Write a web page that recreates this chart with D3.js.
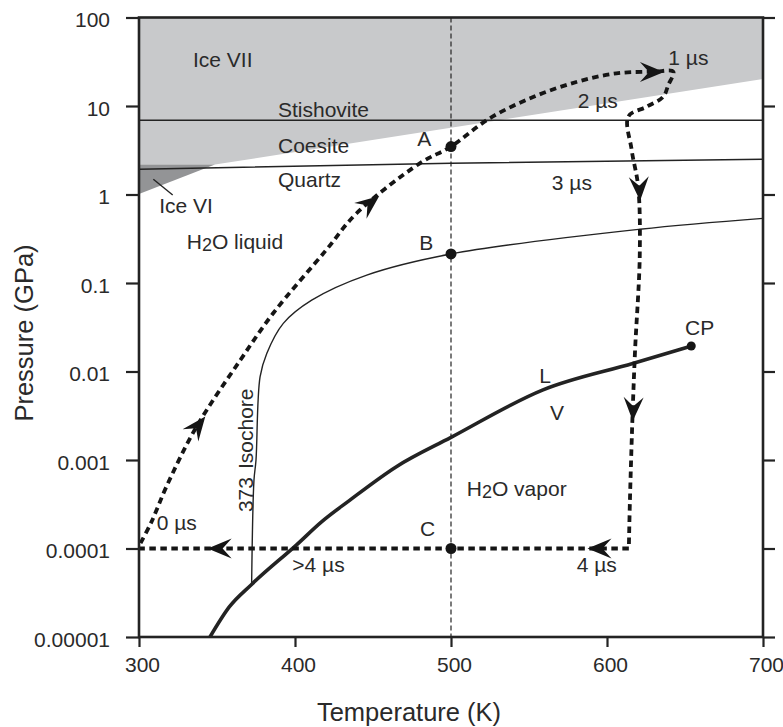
<!DOCTYPE html>
<html>
<head>
<meta charset="utf-8">
<script src="https://cdn.jsdelivr.net/npm/d3@7"></script>
<style>
  html, body { margin: 0; padding: 0; background: #fff; }
  svg { display: block; font-family: "Liberation Sans", Arial, Helvetica, sans-serif; }
</style>
</head>
<body>
<svg id="chart" width="783" height="727"></svg>
<script>
// ---------------- data ----------------
const xTicks = [300, 400, 500, 600, 700];
const yTicks = [1e-5, 1e-4, 1e-3, 1e-2, 1e-1, 1, 10, 100];
const yTickLabels = ["0.00001", "0.0001", "0.001", "0.01", "0.1", "1", "10", "100"];

// Ice VII stability field (upper shaded region)
const iceVII = [[300, 100], [700, 100], [700, 20.2], [348.7, 2.18], [300, 2.18]];
// Ice VI stability field (dark wedge)
const iceVI = [[300, 2.18], [348.7, 2.18], [300, 1.01]];
// Stishovite / Coesite boundary
const stishovite = [[300, 6.9], [700, 6.9]];
// Coesite / Quartz boundary
const quartz = [[300, 1.93], [500, 2.25], [700, 2.5]];
// 373 K isochore
const isochore = [[372.2, 3.9e-5], [373.7, 5.9e-4], [375, 1.0e-3], [377.6, 8.7e-3], [381.9, 0.016],
  [392.5, 0.035], [410.7, 0.064], [446, 0.123], [500, 0.213], [621, 0.405], [700, 0.538]];
// Liquid-vapour curve up to critical point
const liquidVapor = [[345.5, 1e-5], [358, 2.2e-5], [372, 3.9e-5], [401, 1.1e-4], [417, 2.0e-4],
  [435, 3.5e-4], [465, 8.4e-4], [500, 1.8e-3], [559, 6.2e-3], [617, 0.0124], [654, 0.0194]];
// Trajectory (0 -> 4 us)
const trajectory = [[301, 1.15e-4], [308, 2.0e-4], [318, 5.2e-4], [337, 2.4e-3], [365, 0.0135],
  [386, 0.0455], [420, 0.236], [439.5, 0.614], [480, 2.25], [500, 3.48], [525, 7.3], [553, 12.7],
  [581, 18.8], [606, 23.4], [630, 24.4], [642.5, 24.4], [639.3, 17.3], [636, 12.7], [625.4, 9.8],
  [613.7, 7.6], [615.8, 3.2], [620, 1.22], [621, 0.207], [618, 0.0175], [616.5, 3.7e-3],
  [614.7, 3.5e-4], [614, 1e-4]];
// Trajectory after 4 us (isobaric cooling)
const trajectoryEnd = [[614, 1e-4], [300, 1e-4]];
// Arrowheads: [tail, tip]
const arrows = [
  [[332.7, 1.87e-3], [342.5, 3.1e-3]],
  [[438.5, 0.586], [454, 0.96]],
  [[623.1, 24.2], [636.5, 24.2]],
  [[620.5, 1.46], [621.2, 0.85]],
  [[617, 4.76e-3], [616.5, 2.75e-3]],
  [[601.9, 1e-4], [587.5, 1e-4]],
  [[358.3, 1e-4], [344, 1e-4]]
];
// Marked states
const points = [
  { name: "A", T: 500, P: 3.48, r: 5.5 },
  { name: "B", T: 500, P: 0.213, r: 5.5 },
  { name: "C", T: 500, P: 1e-4, r: 5.5 },
  { name: "CP", T: 654, P: 0.0194, r: 4.5 }
];
const referenceT = 500;
// Ice VI leader line
const iceVILeader = [[309.2, 1.49], [321.6, 0.987]];
// Text annotations (anchored in data coordinates)
const labels = [
  { text: "Ice VII", T: 334.6, P: 27.8 },
  { text: "Stishovite", T: 389.1, P: 7.5 },
  { text: "Coesite", T: 389.1, P: 2.97 },
  { text: "Quartz", T: 389.1, P: 1.23 },
  { text: "Ice VI", T: 313, P: 0.613 },
  { text: "H|2|O liquid", T: 330.6, P: 0.24 },
  { text: "A", T: 478.4, P: 3.49 },
  { text: "B", T: 479.7, P: 0.236 },
  { text: "C", T: 480.1, P: 1.38e-4 },
  { text: "1 \u00b5s", T: 639.3, P: 29.1 },
  { text: "2 \u00b5s", T: 581.2, P: 9.42 },
  { text: "3 \u00b5s", T: 564.6, P: 1.12 },
  { text: "CP", T: 650, P: 0.0258 },
  { text: "L", T: 556.6, P: 7.36e-3 },
  { text: "V", T: 563.5, P: 2.83e-3 },
  { text: "H|2|O vapor", T: 510.1, P: 3.89e-4 },
  { text: "4 \u00b5s", T: 580.6, P: 5.47e-5 },
  { text: ">4 \u00b5s", T: 398.3, P: 5.47e-5 },
  { text: "0 \u00b5s", T: 311.3, P: 1.62e-4 }
];
const isochoreLabel = { num: "373", word: "Isochore", T: 372.9, P: 2.58e-4 };
const xTitle = "Temperature (K)";
const yTitle = "Pressure (GPa)";

// ---------------- drawing ----------------
const svg = d3.select("#chart");
const x = d3.scaleLinear().domain([300, 700]).range([139, 763]);
const y = d3.scaleLog().domain([1e-5, 100]).range([637, 17.5]);
const ink = "#232323";

svg.append("defs").append("clipPath").attr("id", "plotclip")
  .append("rect").attr("x", x(300)).attr("y", y(100))
  .attr("width", x(700) - x(300)).attr("height", y(1e-5) - y(100));

const plot = svg.append("g").attr("clip-path", "url(#plotclip)");
const lineOf = curve => d3.line().x(d => x(d[0])).y(d => y(d[1])).curve(curve);

plot.append("path").datum(iceVII).attr("d", lineOf(d3.curveLinearClosed)).attr("fill", "#c8c9cb");
plot.append("path").datum(iceVI).attr("d", lineOf(d3.curveLinearClosed)).attr("fill", "#939496");

plot.append("path").datum(stishovite).attr("d", lineOf(d3.curveLinear))
  .attr("fill", "none").attr("stroke", ink).attr("stroke-width", 1.3);
plot.append("path").datum(quartz).attr("d", lineOf(d3.curveMonotoneX))
  .attr("fill", "none").attr("stroke", ink).attr("stroke-width", 1.5);
plot.append("path").datum(isochore).attr("d", lineOf(d3.curveCatmullRom.alpha(0.5)))
  .attr("fill", "none").attr("stroke", ink).attr("stroke-width", 1.4);
plot.append("path").datum(liquidVapor).attr("d", lineOf(d3.curveMonotoneX))
  .attr("fill", "none").attr("stroke", ink).attr("stroke-width", 3.6);

// reference isotherm
plot.append("line").attr("x1", x(referenceT)).attr("x2", x(referenceT))
  .attr("y1", y(100)).attr("y2", y(1e-5))
  .attr("stroke", ink).attr("stroke-width", 1.2).attr("stroke-dasharray", "5,3");

// trajectory
plot.append("path").datum(trajectory)
  .attr("d", lineOf(d3.curveCatmullRom.alpha(0.5)))
  .attr("fill", "none").attr("stroke", "#151515").attr("stroke-width", 3.8).attr("stroke-dasharray", "6.5,4.5");
plot.append("path").datum(trajectoryEnd)
  .attr("d", lineOf(d3.curveLinear))
  .attr("fill", "none").attr("stroke", "#151515").attr("stroke-width", 3.8).attr("stroke-dasharray", "6.5,4.5");

// arrowheads
svg.append("g").selectAll("path").data(arrows).join("path")
  .attr("d", "M0,0 L-24,-10 L-15,0 L-24,10 Z")
  .attr("fill", "#151515")
  .attr("transform", d => {
    const x0 = x(d[0][0]), y0 = y(d[0][1]), x1 = x(d[1][0]), y1 = y(d[1][1]);
    const a = Math.atan2(y1 - y0, x1 - x0) * 180 / Math.PI;
    return `translate(${x1},${y1}) rotate(${a})`;
  });

// points
svg.append("g").selectAll("circle").data(points).join("circle")
  .attr("cx", d => x(d.T)).attr("cy", d => y(d.P)).attr("r", d => d.r).attr("fill", "#151515");

// leader
svg.append("line").attr("x1", x(iceVILeader[0][0])).attr("y1", y(iceVILeader[0][1]))
  .attr("x2", x(iceVILeader[1][0])).attr("y2", y(iceVILeader[1][1]))
  .attr("stroke", ink).attr("stroke-width", 1.4);

// labels
const lg = svg.append("g").attr("font-size", 21).attr("fill", "#2a2a2a");
labels.forEach(l => {
  const t = lg.append("text").attr("x", x(l.T)).attr("y", y(l.P));
  const parts = l.text.split("|");
  if (parts.length === 3) {
    t.append("tspan").text(parts[0]);
    t.append("tspan").attr("font-size", 18).attr("dy", 2).text(parts[1]);
    t.append("tspan").attr("dy", -2).text(parts[2]);
  } else {
    t.text(l.text);
  }
});
const it = lg.append("text")
  .attr("transform", `translate(${x(isochoreLabel.T)},${y(isochoreLabel.P)}) rotate(-90)`);
it.append("tspan").text(isochoreLabel.num);
it.append("tspan").attr("dx", 8).text(isochoreLabel.word);

// frame
svg.append("rect").attr("x", x(300)).attr("y", y(100))
  .attr("width", x(700) - x(300)).attr("height", y(1e-5) - y(100))
  .attr("fill", "none").attr("stroke", ink).attr("stroke-width", 2.6);

// axes
const fmt = d => yTickLabels[yTicks.indexOf(d)];
const gl = svg.append("g").attr("transform", `translate(${x(300)},0)`)
  .call(d3.axisLeft(y).tickValues(yTicks).tickFormat(fmt).tickSize(13).tickPadding(16).tickSizeOuter(0));
const gr = svg.append("g").attr("transform", `translate(${x(700)},0)`)
  .call(d3.axisRight(y).tickValues(yTicks).tickFormat("").tickSize(12).tickSizeOuter(0));
const gb = svg.append("g").attr("transform", `translate(0,${y(1e-5)})`)
  .call(d3.axisBottom(x).tickValues(xTicks).tickFormat(d3.format("d")).tickSize(10).tickPadding(10).tickSizeOuter(0));
[gl, gr, gb].forEach(g => {
  g.select(".domain").remove();
  g.selectAll(".tick line").attr("stroke", ink).attr("stroke-width", 2.2);
  g.selectAll(".tick text").attr("font-size", 21).attr("fill", "#2a2a2a")
    .attr("font-family", "'Liberation Sans', Arial, sans-serif");
});
gb.selectAll(".tick text").attr("dx", 3);
gl.selectAll(".tick text").attr("dy", "0.45em");

// titles
svg.append("text").attr("x", 409).attr("y", 721).attr("text-anchor", "middle")
  .attr("font-size", 25.5).attr("fill", "#2a2a2a").text(xTitle);
svg.append("text").attr("transform", "translate(33,333) rotate(-90)").attr("text-anchor", "middle")
  .attr("font-size", 25.5).attr("fill", "#2a2a2a").text(yTitle);
</script>
</body>
</html>
